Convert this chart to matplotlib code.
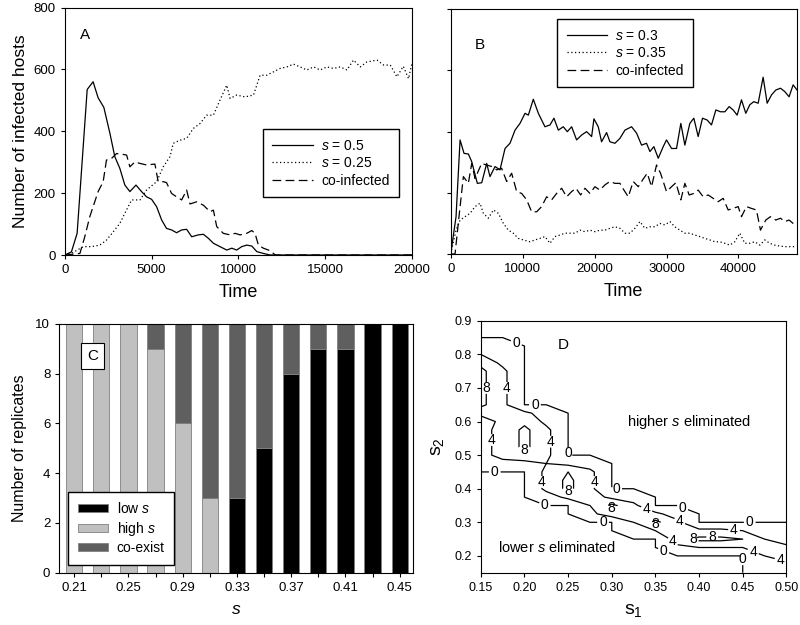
import numpy as np
import matplotlib
matplotlib.use('Agg')
import matplotlib.pyplot as plt

plt.rcParams['font.family'] = ['Liberation Sans', 'DejaVu Sans']
plt.rcParams['mathtext.fontset'] = 'custom'
plt.rcParams['mathtext.rm'] = 'Liberation Sans'
plt.rcParams['mathtext.it'] = 'Liberation Sans:italic'

# ---- panel A: s = 0.5 vs s = 0.25
a_t_hi = [0, 380, 710, 1290, 1630, 1920, 2250, 2600, 2880, 3170, 3460, 3750, 4100, 4420,
          4710, 5000, 5290, 5580, 5860, 6150, 6440, 6730, 7020, 7310, 7690, 7980, 8270,
          8560, 8940, 9330, 9620, 9900, 10190, 10480, 10770, 11060, 11440, 11830, 20000]
a_hi = [0, 10, 70, 535, 560, 508, 477, 393, 318, 280, 226, 205, 226, 205,
        188, 180, 156, 113, 86, 81, 72, 81, 83, 59, 65, 67, 54,
        38, 27, 16, 22, 16, 27, 32, 29, 11, 5, 0, 0]

a_t_lo = [0, 380, 1060, 1540, 2020, 2400, 2790, 3170, 3460, 3850, 4330, 4710, 5290, 5670,
          6060, 6250, 6630, 7020, 7400, 7790, 8170, 8560, 8940, 9330, 9520, 9900, 10380,
          10870, 11250, 11630, 12020, 12400, 12790, 13170, 13560, 13940, 14330, 14710,
          15100, 15480, 15870, 16250, 16630, 17020, 17400, 17980, 18370, 18750, 19130,
          19500, 19800, 20000]
a_lo = [0, 5, 27, 27, 32, 48, 75, 102, 135, 178, 178, 210, 237, 285,
        318, 361, 371, 377, 409, 425, 452, 452, 501, 549, 506, 517, 511,
        517, 581, 581, 592, 603, 608, 617, 608, 598, 608, 598,
        608, 603, 608, 598, 630, 608, 624, 630, 614, 614, 576,
        610, 570, 620]

a_t_co = [0, 870, 1150, 1440, 1630, 1920, 2210, 2400, 2690, 2980, 3270, 3560, 3750, 4040,
          4330, 4710, 5190, 5380, 5670, 5860, 6150, 6440, 6730, 7020, 7210, 7600, 7980,
          8370, 8560, 8750, 9130, 9520, 9810, 10100, 10480, 10770, 10960, 11150, 11440,
          11830, 12120, 20000]
a_co = [0, 5, 59, 124, 156, 205, 237, 307, 312, 328, 326, 323, 285, 301,
        296, 291, 294, 237, 237, 234, 199, 188, 178, 210, 165, 172, 161,
        140, 145, 92, 70, 65, 70, 65, 70, 79, 70, 32, 22,
        14, 0, 0]

# ---- panel B: s = 0.3 vs s = 0.35
b_t_lo = [0, 740, 1300, 1850, 2450, 2920, 3700, 4310, 5000, 5460,
          6160, 6850, 7550, 8240, 8940, 9630, 10330, 10790, 11480, 12180,
          13100, 13800, 14350, 14960, 15650, 16210, 16810, 17500, 18200, 18890,
          19590, 19910, 20510, 20970, 21670, 22130, 22830, 23520, 24220, 25140,
          25840, 26530, 27220, 27690, 28240, 28850, 29540, 30000, 30700, 31390,
          31990, 32550, 33240, 33800, 34400, 35000, 35650, 36250, 36860, 37500,
          38110, 38710, 39260, 39820, 40420, 41020, 41580, 42130, 42740, 43430,
          43990, 44590, 45190, 45840, 46440, 47040, 47600, 48150]
b_lo = [0, 122, 373, 329, 327, 302, 231, 233, 296, 253,
        286, 275, 345, 362, 405, 427, 460, 454, 506, 460,
        416, 422, 444, 405, 416, 400, 416, 373, 389, 400,
        384, 442, 416, 367, 397, 367, 362, 378, 405, 416,
        395, 356, 362, 335, 351, 313, 351, 373, 345, 345,
        427, 356, 427, 444, 384, 444, 438, 422, 471, 465,
        465, 482, 471, 454, 504, 460, 488, 498, 493, 578,
        493, 520, 536, 542, 531, 514, 553, 536]

b_t_hi = [0, 740, 1300, 1990, 2690, 3380, 4070, 4540, 5230, 5930,
          6620, 7320, 8010, 8700, 9400, 10090, 11020, 11710, 12410, 13100,
          13800, 14490, 15190, 15880, 16580, 17270, 17960, 18660, 19350, 20050,
          20740, 21440, 22130, 22830, 23520, 24220, 24910, 25600, 26300, 26990,
          27690, 28380, 29080, 29770, 30470, 31160, 31850, 32550, 33240, 33940,
          34630, 35330, 36020, 36720, 37410, 38110, 38800, 39490, 40190, 40880,
          41580, 42270, 42970, 43660, 44360, 45050, 45740, 46440, 47130, 48060]
b_hi = [0, 78, 111, 122, 133, 155, 166, 133, 117, 144,
        133, 100, 78, 68, 51, 46, 40, 46, 51, 57,
        35, 57, 62, 68, 68, 68, 78, 73, 78, 73,
        78, 78, 84, 89, 84, 68, 68, 84, 106, 84,
        89, 89, 100, 95, 106, 89, 78, 68, 68, 62,
        57, 51, 46, 40, 40, 35, 29, 40, 68, 35,
        35, 40, 29, 46, 35, 29, 26, 24, 24, 24]

b_t_co = [0, 600, 1200, 1760, 2450, 2920, 3380, 4300, 5000, 5700,
          6390, 7080, 7780, 8470, 9170, 9860, 10560, 11250, 11950, 12640,
          13330, 14030, 14720, 15420, 16110, 16810, 17410, 18060, 18660, 19350,
          20050, 20740, 21440, 22130, 22830, 23520, 24080, 24680, 25370, 26070,
          26670, 27320, 27920, 28610, 29170, 30000, 30700, 31300, 31990, 32550,
          33150, 33800, 34400, 35100, 35790, 36480, 37180, 37870, 38570, 39260,
          39960, 40420, 41110, 41810, 42500, 43060, 43800, 44450, 45190, 45840,
          46440, 47040, 47600, 48150]
b_co = [0, 0, 133, 253, 231, 296, 247, 296, 291, 286,
        275, 280, 237, 264, 204, 198, 177, 138, 138, 155,
        187, 177, 198, 215, 187, 204, 215, 193, 215, 198,
        220, 209, 226, 237, 231, 231, 209, 187, 237, 220,
        242, 264, 220, 291, 264, 204, 220, 233, 177, 231,
        193, 198, 209, 187, 193, 182, 171, 182, 144, 149,
        155, 122, 155, 149, 144, 78, 111, 122, 111, 117,
        106, 111, 100, 95]

# ---- panel C: outcome of 10 replicates
c_s = [0.21, 0.23, 0.25, 0.27, 0.29, 0.31, 0.33, 0.35, 0.37, 0.39, 0.41, 0.43, 0.45]
c_low = [0, 0, 0, 0, 0, 0, 3, 5, 8, 9, 9, 10, 10]
c_high = [10, 10, 10, 9, 6, 3, 0, 0, 0, 0, 0, 0, 0]
c_coexist = [0, 0, 0, 1, 4, 7, 7, 5, 2, 1, 1, 0, 0]

# ---- panel D: number of co-existing replicates on the (s1, s2) grid
d_s1 = [0.15, 0.175, 0.2, 0.225, 0.25, 0.275, 0.3, 0.325, 0.35, 0.375,
        0.4, 0.425, 0.45, 0.475, 0.5]
d_s2 = [0.15, 0.175, 0.2, 0.225, 0.25, 0.275, 0.3, 0.325, 0.35, 0.375,
        0.4, 0.425, 0.45, 0.475, 0.5, 0.525, 0.55, 0.575, 0.6, 0.625,
        0.65, 0.675, 0.7, 0.725, 0.75, 0.775, 0.8, 0.825, 0.85, 0.875, 0.9]
# rows from s2 = 0.9 (top) down to s2 = 0.15
d_rows = [
    "000000000000000",
    "000000000000000",
    "000000000000000",
    "110000000000000",
    "420000000000000",
    "730000000000000",
    "950000000000000",
    "950000000000000",
    "950000000000000",
    "950000000000000",
    "950000000000000",
    "555200000000000",
    "257300000000000",
    "359500000000000",
    "359500000000000",
    "359500000000000",
    "356500000000000",
    "233432000000000",
    "000585000000000",
    "000595000000000",
    "000595000000000",
    "000256320000000",
    "000004950000000",
    "000003665200000",
    "000000049500000",
    "000000024755421",
    "000000000699842",
    "000000000344465",
    "000000000000046",
    "000000000000023",
    "000000000000011",
]
d_levels = [0, 4, 8]


def style_axes(ax):
    for sp in ax.spines.values():
        sp.set_linewidth(0.8)
    ax.tick_params(direction='out', length=3, width=0.8, labelsize=9.5)


leg_kw = dict(borderaxespad=0, fancybox=False, edgecolor='black', framealpha=1,
              fontsize=10, labelspacing=0.25, borderpad=0.7)

fig = plt.figure(figsize=(8, 6.25), dpi=100)

# A
axA = fig.add_axes([0.081, 0.592, 0.434, 0.396])
axA.plot(a_t_hi, a_hi, color='black', lw=0.9, label='$s$ = 0.5')
axA.plot(a_t_lo, a_lo, color='black', lw=0.9, ls=(0, (1, 2)), label='$s$ = 0.25')
axA.plot(a_t_co, a_co, color='black', lw=0.9, ls=(0, (7, 3.5)), label='co-infected')
axA.set_xlim(0, 20000)
axA.set_ylim(0, 800)
axA.set_xticks([0, 5000, 10000, 15000, 20000])
axA.set_yticks([0, 200, 400, 600, 800])
axA.set_xlabel('Time', fontsize=13, labelpad=6)
axA.set_ylabel('Number of infected hosts', fontsize=12.5, labelpad=4)
axA.text(0.058, 0.888, 'A', transform=axA.transAxes, fontsize=11, ha='center', va='center')
axA.legend(loc='upper right', bbox_to_anchor=(0.9625, 0.509),
           handlelength=2.9, handletextpad=0.6, **leg_kw)
style_axes(axA)

# B
axB = fig.add_axes([0.5634, 0.5936, 0.4325, 0.3915])
axB.plot(b_t_lo, b_lo, color='black', lw=0.9, label='$s$ = 0.3')
axB.plot(b_t_hi, b_hi, color='black', lw=0.9, ls=(0, (1, 2)), label='$s$ = 0.35')
axB.plot(b_t_co, b_co, color='black', lw=0.9, ls=(0, (7, 3.5)), label='co-infected')
axB.set_xlim(0, 48100)
axB.set_ylim(0, 800)
axB.set_xticks([0, 10000, 20000, 30000, 40000])
axB.set_yticks([0, 200, 400, 600, 800])
axB.set_yticklabels([])
axB.set_xlabel('Time', fontsize=13, labelpad=6)
axB.text(0.085, 0.854, 'B', transform=axB.transAxes, fontsize=11, ha='center', va='center')
axB.legend(loc='upper left', bbox_to_anchor=(0.307, 0.96),
           handlelength=2.9, handletextpad=0.6, **leg_kw)
style_axes(axB)

# C
axC = fig.add_axes([0.0741, 0.0837, 0.4418, 0.398])
x = np.arange(len(c_s))
low = np.array(c_low)
high = np.array(c_high)
axC.bar(x, low, width=0.6, color='black', edgecolor='#808080', lw=0.6, label='low $s$')
axC.bar(x, high, width=0.6, color='#c0c0c0', edgecolor='#808080', lw=0.6, label='high $s$')
axC.bar(x, c_coexist, bottom=low + high, width=0.6, color='#5f5f5f', edgecolor='#808080',
        lw=0.6, label='co-exist')
axC.set_xticks(x)
axC.set_xticklabels(['%.2f' % v if i % 2 == 0 else '' for i, v in enumerate(c_s)])
axC.set_xlim(-0.55, 12.48)
axC.set_ylim(0, 10)
axC.set_yticks([0, 2, 4, 6, 8, 10])
axC.set_xlabel('$s$', fontsize=12.5, labelpad=6)
axC.set_ylabel('Number of replicates', fontsize=11.5, labelpad=6)
axC.text(0.095, 0.871, 'C', transform=axC.transAxes, fontsize=11, ha='center', va='center',
         bbox=dict(boxstyle='square,pad=0.4', fc='white', ec='black', lw=0.8))
axC.legend(loc='lower left', bbox_to_anchor=(0.0246, 0.031),
           handlelength=2.2, handleheight=0.5, handletextpad=0.6, **leg_kw)
style_axes(axC)

# D
axD = fig.add_axes([0.601, 0.0837, 0.382, 0.403])
z = np.array([[int(ch) for ch in row] for row in d_rows[::-1]], dtype=float)
cs = axD.contour(d_s1, d_s2, z, levels=d_levels, colors='black', linewidths=0.9)
label_pos = [
    (0.193, 0.85), (0.212, 0.65), (0.25, 0.505), (0.305, 0.4), (0.382, 0.35), (0.458, 0.3),
    (0.166, 0.45), (0.223, 0.35), (0.29, 0.3), (0.357, 0.2), (0.45, 0.19),
    (0.18, 0.70), (0.1625, 0.545), (0.23, 0.54), (0.22, 0.42), (0.28, 0.42),
    (0.34, 0.34), (0.378, 0.304), (0.37, 0.243), (0.44, 0.278), (0.462, 0.213),
    (0.493, 0.186),
    (0.156, 0.70), (0.2, 0.517), (0.25, 0.394), (0.3, 0.342), (0.35, 0.295),
    (0.393, 0.25), (0.415, 0.256),
]
labels = axD.clabel(cs, fmt='%d', fontsize=10, inline=True, inline_spacing=2,
                    manual=label_pos)
for t in labels:
    t.set_rotation(0)
axD.set_xlim(0.15, 0.5)
axD.set_ylim(0.15, 0.9)
axD.set_xticks([0.15, 0.2, 0.25, 0.3, 0.35, 0.4, 0.45, 0.5])
axD.set_xticklabels(['0.15', '0.20', '0.25', '0.30', '0.35', '0.40', '0.45', '0.50'])
axD.set_yticks([0.2, 0.3, 0.4, 0.5, 0.6, 0.7, 0.8, 0.9])
axD.set_yticklabels(['0.2', '0.3', '0.4', '0.5', '0.6', '0.7', '0.8', '0.9'])
axD.set_xlabel(r'$\mathregular{s_1}$', fontsize=14, labelpad=6)
axD.set_ylabel(r'$\mathregular{s_2}$', fontsize=14, labelpad=6)
axD.text(0.244, 0.828, 'D', fontsize=11, ha='center', va='center')
axD.text(0.388, 0.599, 'higher $s$ eliminated', fontsize=10.5, ha='center', va='center')
axD.text(0.237, 0.226, 'lower $s$ eliminated', fontsize=10.5, ha='center', va='center')
style_axes(axD)
axD.tick_params(labelsize=9)

fig.savefig('out.png', dpi=100)
